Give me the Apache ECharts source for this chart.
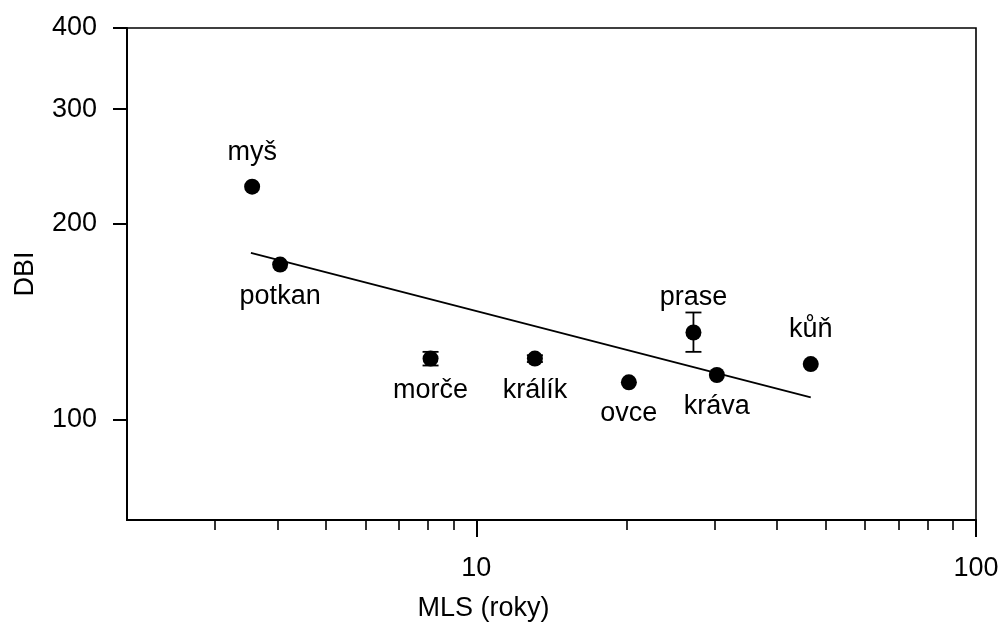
<!DOCTYPE html>
<html><head><meta charset="utf-8">
<script src="https://cdn.jsdelivr.net/npm/echarts@6/dist/echarts.min.js"></script>
<style>html,body{margin:0;padding:0;background:#fff}#c{width:1003px;height:623px}</style>
</head><body><div id="c"></div>
<script>
const species = ['myš', 'potkan', 'morče', 'králík', 'ovce', 'prase', 'kráva', 'kůň'];
const mls = [3.56, 4.05, 8.1, 13.1, 20.2, 27.2, 30.3, 46.7];
const dbi = [228, 173, 124, 124, 114, 136, 117, 121.6];
const errLow = [null, null, 121, 122.5, null, 127, null, null];
const errHigh = [null, null, 127, 125.5, null, 146, null, null];
const fitX = [3.54, 46.7];
const fitY = [180.4, 108.1];
const xMajorTicks = [10, 100];
const xMinorTicks = [3, 4, 5, 6, 7, 8, 9, 20, 30, 40, 50, 60, 70, 80, 90];
const yTicks = [100, 200, 300, 400];
const labelsAbove = ['myš', 'prase', 'kůň'];

const FONT = 'Liberation Sans';
const FS = 27;

const points = species.map((s, i) => ({
  name: s,
  value: [mls[i], dbi[i]],
  label: labelsAbove.includes(s) ? { position: 'top', distance: 13 } : { position: 'bottom', distance: 10 }
}));
const errData = species.map((s, i) => [mls[i], errLow[i], errHigh[i]]).filter(d => d[1] != null);
const fitData = fitX.map((x, i) => [x, fitY[i]]);

const chart = echarts.init(document.getElementById('c'), null, { renderer: 'canvas' });
chart.setOption({
  backgroundColor: '#fff',
  animation: false,
  grid: { left: 127, right: 27, top: 28, bottom: 103, outerBoundsMode: 'none', containLabel: false,
    show: true, borderColor: '#000', borderWidth: 1.6, backgroundColor: 'transparent' },
  xAxis: [{
    type: 'log', logBase: 10, min: 2, max: 100, position: 'bottom',
    name: 'MLS (roky)', nameLocation: 'middle', nameGap: 75,
    nameTextStyle: { fontFamily: FONT, fontSize: FS, color: '#000', padding: [0, 136, 0, 0] },
    axisLine: { show: true, onZero: false, lineStyle: { color: '#000', width: 2 } },
    axisTick: { show: true, inside: false, length: 17, customValues: xMajorTicks, lineStyle: { color: '#000', width: 2 } },
    axisLabel: { customValues: xMajorTicks, fontFamily: FONT, fontSize: FS, color: '#000', margin: 35 },
    splitLine: { show: false }, minorTick: { show: false }
  }, {
    type: 'log', logBase: 10, min: 2, max: 100, position: 'bottom',
    axisLine: { show: false },
    axisTick: { show: true, inside: false, length: 10, customValues: xMinorTicks, lineStyle: { color: '#000', width: 1.6 } },
    axisLabel: { show: false },
    splitLine: { show: false }
  }],
  yAxis: {
    type: 'log', logBase: 10, min: 70, max: 400,
    name: 'DBI', nameLocation: 'middle', nameGap: 88, nameRotate: 90,
    nameTextStyle: { fontFamily: FONT, fontSize: FS, color: '#000' },
    axisLine: { show: true, onZero: false, lineStyle: { color: '#000', width: 2 } },
    axisTick: { show: true, inside: false, length: 14, customValues: yTicks, lineStyle: { color: '#000', width: 2 } },
    axisLabel: { customValues: yTicks, fontFamily: FONT, fontSize: FS, color: '#000', margin: 30 },
    splitLine: { show: false }
  },
  series: [{
    type: 'line', xAxisIndex: 0, data: fitData, showSymbol: false, symbol: 'none',
    lineStyle: { color: '#000', width: 1.8 }, silent: true, z: 2
  }, {
    type: 'custom', xAxisIndex: 0, data: errData, z: 3,
    renderItem: function (params, api) {
      const x = api.value(0), lo = api.value(1), hi = api.value(2);
      const p1 = api.coord([x, lo]), p2 = api.coord([x, hi]);
      const w = 8;
      const st = { stroke: '#000', lineWidth: 1.8 };
      return { type: 'group', children: [
        { type: 'line', shape: { x1: p1[0], y1: p1[1], x2: p2[0], y2: p2[1] }, style: st },
        { type: 'line', shape: { x1: p1[0] - w, y1: p1[1], x2: p1[0] + w, y2: p1[1] }, style: st },
        { type: 'line', shape: { x1: p2[0] - w, y1: p2[1], x2: p2[0] + w, y2: p2[1] }, style: st }
      ] };
    }
  }, {
    type: 'scatter', xAxisIndex: 0, data: points, symbol: 'circle', symbolSize: 16, z: 4,
    itemStyle: { color: '#000', opacity: 1 },
    label: { show: true, formatter: p => p.name, fontFamily: FONT, fontSize: FS, color: '#000' }
  }]
});
</script></body></html>
